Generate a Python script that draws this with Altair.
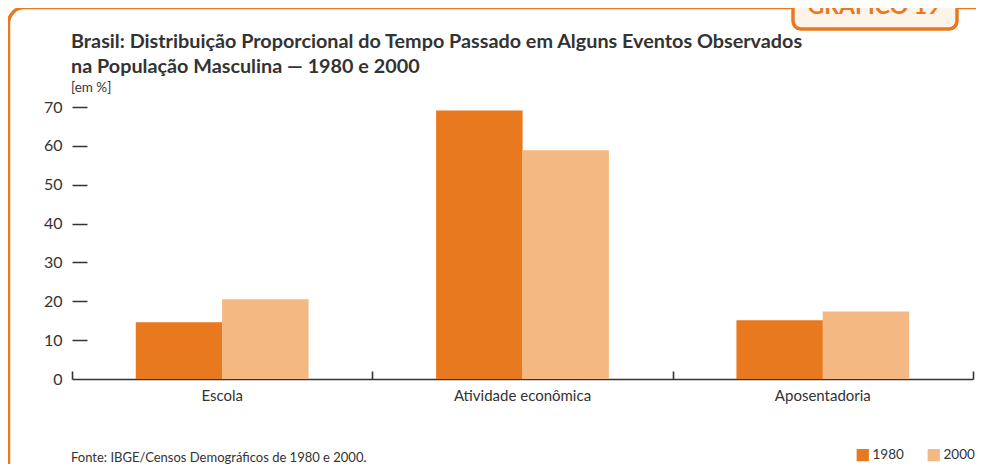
import altair as alt
import pandas as pd

categorias = ["Escola", "Atividade econômica", "Aposentadoria"]
anos = ["1980", "2000"]
valores_1980 = [14.6, 69.1, 15.1]
valores_2000 = [20.5, 58.9, 17.4]
y_ticks = [0, 10, 20, 30, 40, 50, 60, 70]

titulo_1 = "Brasil: Distribuição Proporcional do Tempo Passado em Alguns Eventos Observados"
titulo_2 = "na População Masculina — 1980 e 2000"
unidade = "[em %]"
fonte = "Fonte: IBGE/Censos Demográficos de 1980 e 2000."
etiqueta = "GRÁFICO 19"

rows = []
for c, v in zip(categorias, valores_1980):
    rows.append({"categoria": c, "ano": "1980", "valor": v})
for c, v in zip(categorias, valores_2000):
    rows.append({"categoria": c, "ano": "2000", "valor": v})
df = pd.DataFrame(rows)

ORANGE = "#E8791E"
LIGHT = "#F4B983"
TXT = "#333333"
FONT = "Lato"

xscale = alt.Scale(domain=categorias, paddingInner=0, paddingOuter=0)

bars = alt.Chart(df).mark_bar(size=86.5).encode(
    x=alt.X("categoria:N", sort=categorias, scale=xscale,
            axis=alt.Axis(title=None, labelAngle=0, ticks=False, domain=True,
                          domainColor=TXT, domainWidth=1.6, labelPadding=9,
                          labelFontSize=15, labelColor=TXT, labelFont=FONT,
                          orient="bottom")),
    xOffset=alt.XOffset("ano:N", scale=alt.Scale(domain=anos, paddingOuter=0.74, paddingInner=0)),
    y=alt.Y("valor:Q", scale=alt.Scale(domain=[0, 70], nice=False),
            axis=alt.Axis(title=None, values=y_ticks, offset=-15, tickSize=15,
                          tickColor=TXT, tickWidth=1.5, domain=False, grid=False,
                          labelPadding=10, labelFontSize=16, labelColor=TXT,
                          labelFont=FONT,
                          tickOpacity={"condition": {"test": "datum.value == 0", "value": 0}, "value": 1})),
    color=alt.Color("ano:N", scale=alt.Scale(domain=anos, range=[ORANGE, LIGHT]),
                    legend=alt.Legend(title=None, orient="none", legendX=784, legendY=341,
                                      direction="horizontal", symbolType="square",
                                      symbolSize=150, symbolStrokeWidth=0,
                                      labelFontSize=13.5, labelColor=TXT, labelFont=FONT,
                                      columnPadding=23, labelOffset=3)),
)

ticks = alt.Chart(df).mark_bar(opacity=0).encode(
    x=alt.X("categoria:N", sort=categorias, scale=xscale,
            axis=alt.Axis(title=None, labels=False, domain=False, ticks=True,
                          tickSize=8, tickBand="extent", tickColor=TXT, tickWidth=1.6,
                          orient="bottom", offset=-8)),
)

one = pd.DataFrame({"k": [0]})
frame = alt.Chart(one).mark_rect(cornerRadius=16, fillOpacity=0, stroke=ORANGE,
                                 strokeWidth=3.5).encode(
    x=alt.value(-63.5), x2=alt.value(918), y=alt.value(-99.5), y2=alt.value(375))

tab = alt.Chart(one).mark_rect(cornerRadius=8, fill="#FDF3EA", stroke=ORANGE,
                               strokeWidth=3.5).encode(
    x=alt.value(721), x2=alt.value(885), y=alt.value(-130), y2=alt.value(-78))

tab_text = alt.Chart(pd.DataFrame({"t": [etiqueta]})).mark_text(
    font=FONT, fontSize=23, fontWeight="bold", color=ORANGE, align="center",
    baseline="alphabetic").encode(
    text="t:N", x=alt.value(802), y=alt.value(-93))

t1 = alt.Chart(pd.DataFrame({"t": [titulo_1]})).mark_text(
    font=FONT, fontSize=19.8, fontWeight="bold", color=TXT, align="left",
    baseline="alphabetic").encode(text="t:N", x=alt.value(-1), y=alt.value(-59))

t2 = alt.Chart(pd.DataFrame({"t": [titulo_2]})).mark_text(
    font=FONT, fontSize=19.8, fontWeight="bold", color=TXT, align="left",
    baseline="alphabetic").encode(text="t:N", x=alt.value(-1), y=alt.value(-34))

t3 = alt.Chart(pd.DataFrame({"t": [unidade]})).mark_text(
    font=FONT, fontSize=13.5, color=TXT, align="left",
    baseline="alphabetic").encode(text="t:N", x=alt.value(-1), y=alt.value(-15))

source = alt.Chart(pd.DataFrame({"t": [fonte]})).mark_text(
    font=FONT, fontSize=13, color=TXT, align="left", baseline="alphabetic").encode(
    text="t:N", x=alt.value(-1), y=alt.value(355))

chart = alt.layer(frame, tab, tab_text, t1, t2, t3, source, ticks, bars).resolve_axis(
    x="independent").properties(
    width=901, height=272,
    autosize=alt.AutoSizeParams(type="none"),
    padding={"left": 64, "top": 99, "right": 3, "bottom": 85},
    background="white",
).configure_view(strokeWidth=0, stroke="transparent")

chart.save("out.html", embed_options={"renderer": "svg", "actions": False})
